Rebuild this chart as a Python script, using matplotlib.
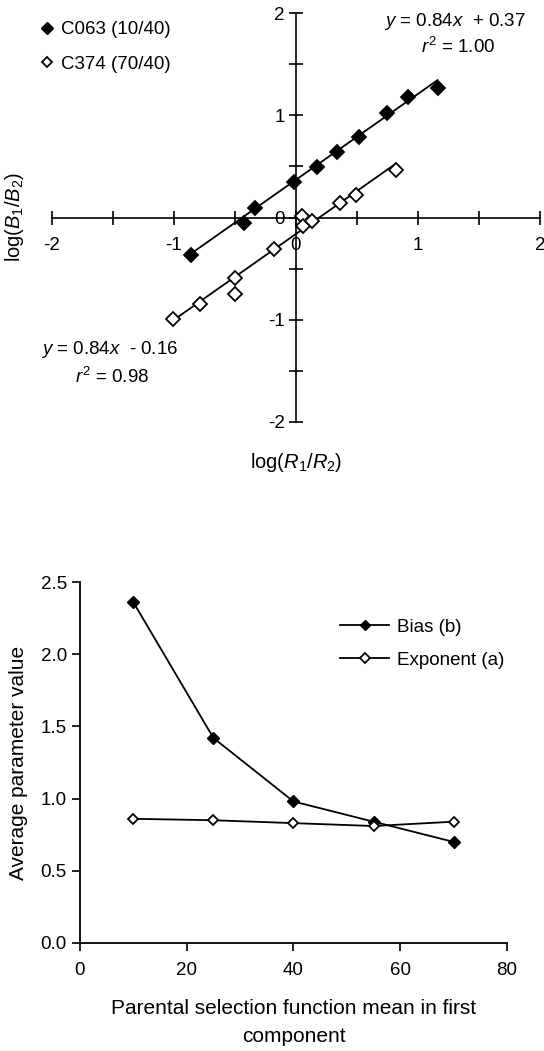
import matplotlib
matplotlib.use("Agg")
import matplotlib.pyplot as plt
import numpy as np
from matplotlib.ticker import MultipleLocator, FuncFormatter
from matplotlib.lines import Line2D

plt.rcParams['font.family'] = ['Liberation Sans', 'DejaVu Sans']
plt.rcParams['mathtext.fontset'] = 'custom'
plt.rcParams['mathtext.rm'] = 'Liberation Sans'
plt.rcParams['mathtext.it'] = 'Liberation Sans:italic'

# ---- top panel: log(B1/B2) vs log(R1/R2) ----
c063_x = [-0.86, -0.43, -0.34, -0.02, 0.17, 0.34, 0.52, 0.75, 0.92, 1.16]
c063_y = [-0.37, -0.05, 0.09, 0.35, 0.49, 0.64, 0.79, 1.02, 1.18, 1.27]
c063_fit = (0.84, 0.37)

c374_x = [-1.01, -0.79, -0.50, -0.50, -0.18, 0.05, 0.06, 0.13, 0.36, 0.49, 0.82]
c374_y = [-0.99, -0.85, -0.75, -0.59, -0.31, 0.02, -0.08, -0.03, 0.14, 0.22, 0.47]
c374_fit = (0.84, -0.16)

# ---- bottom panel ----
means = [10, 25, 40, 55, 70]
bias = [2.36, 1.42, 0.98, 0.84, 0.70]
exponent = [0.86, 0.85, 0.83, 0.81, 0.84]

fig = plt.figure(figsize=(5.44, 10.51), dpi=100)

ax1 = fig.add_axes([0.0956, 0.5985, 0.897, 0.389])
ax1.set_xlim(-2, 2)
ax1.set_ylim(-2, 2)
for s in ['top', 'right']:
    ax1.spines[s].set_visible(False)
for s in ['left', 'bottom']:
    ax1.spines[s].set_position(('data', 0))
    ax1.spines[s].set_linewidth(1.2)
ax1.xaxis.set_major_locator(MultipleLocator(0.5))
ax1.yaxis.set_major_locator(MultipleLocator(0.5))
intfmt = FuncFormatter(lambda v, p: ('%d' % v) if abs(v - round(v)) < 1e-6 else '')
ax1.xaxis.set_major_formatter(intfmt)
ax1.yaxis.set_major_formatter(intfmt)
ax1.tick_params(axis='both', direction='inout', length=10, width=1.2, labelsize=13.5)
ax1.tick_params(axis='x', pad=9)
ax1.tick_params(axis='y', pad=3)

for xs, ys, fit, fc in [(c063_x, c063_y, c063_fit, 'black'), (c374_x, c374_y, c374_fit, 'white')]:
    xr = np.array([min(xs), max(xs)])
    ax1.plot(xr, fit[0] * xr + fit[1], color='black', lw=1.3, zorder=2)
    ax1.plot(xs, ys, 'D', ms=7, mfc=fc, mec='black', mew=1.3, zorder=3)

handles = [Line2D([], [], ls='none', marker='D', ms=6, mfc='black', mec='black'),
           Line2D([], [], ls='none', marker='D', ms=5.5, mfc='white', mec='black', mew=1.3)]
fig.legend(handles, ['C063 (10/40)', 'C374 (70/40)'], loc='upper left',
           bbox_to_anchor=(0.045, 0.996), frameon=False, fontsize=13.5,
           handlelength=0.6, handletextpad=0.45, labelspacing=0.92)

fig.text(455 / 544, 1 - 21 / 1051, '$y$ = 0.84$x$  + 0.37', ha='center', va='center', fontsize=13.5)
fig.text(458 / 544, 1 - 47 / 1051, '$r^2$ = 1.00', ha='center', va='center', fontsize=13.5)
fig.text(110 / 544, 1 - 350 / 1051, '$y$ = 0.84$x$  - 0.16', ha='center', va='center', fontsize=13.5)
fig.text(112 / 544, 1 - 377 / 1051, '$r^2$ = 0.98', ha='center', va='center', fontsize=13.5)

fig.text(15 / 544, 1 - 217 / 1051, 'log($B_1$/$B_2$)', rotation=90, ha='center', va='center', fontsize=14.5)
fig.text(296 / 544, 1 - 463 / 1051, 'log($R_1$/$R_2$)', ha='center', va='center', fontsize=14.5)

# ---- bottom panel ----
ax2 = fig.add_axes([0.147, 0.1028, 0.785, 0.3434])
ax2.plot(means, bias, color='black', lw=1.3, marker='D', ms=6.5, mfc='black', mec='black', label='Bias (b)')
ax2.plot(means, exponent, color='black', lw=1.3, marker='D', ms=5.5, mfc='white', mec='black', mew=1.3,
         label='Exponent (a)')
ax2.set_xlim(0, 80)
ax2.set_ylim(0, 2.5)
ax2.xaxis.set_major_locator(MultipleLocator(20))
ax2.yaxis.set_major_locator(MultipleLocator(0.5))
ax2.yaxis.set_major_formatter(FuncFormatter(lambda v, p: '%.1f' % v))
for s in ['top', 'right']:
    ax2.spines[s].set_visible(False)
for s in ['left', 'bottom']:
    ax2.spines[s].set_linewidth(1.3)
ax2.tick_params(axis='both', direction='out', length=6, width=1.2, labelsize=13.5)
ax2.tick_params(axis='x', pad=8)
ax2.set_ylabel('Average parameter value', fontsize=15, labelpad=9)
ax2.set_xlabel('Parental selection function mean in first\ncomponent', fontsize=15,
               labelpad=14, linespacing=1.6)
ax2.legend(loc='upper left', bbox_to_anchor=(0.57, 0.945), frameon=False, fontsize=13.5,
           handlelength=2.6, handletextpad=0.4, labelspacing=0.85, markerscale=0.85)

fig.savefig('out.png', dpi=100)
